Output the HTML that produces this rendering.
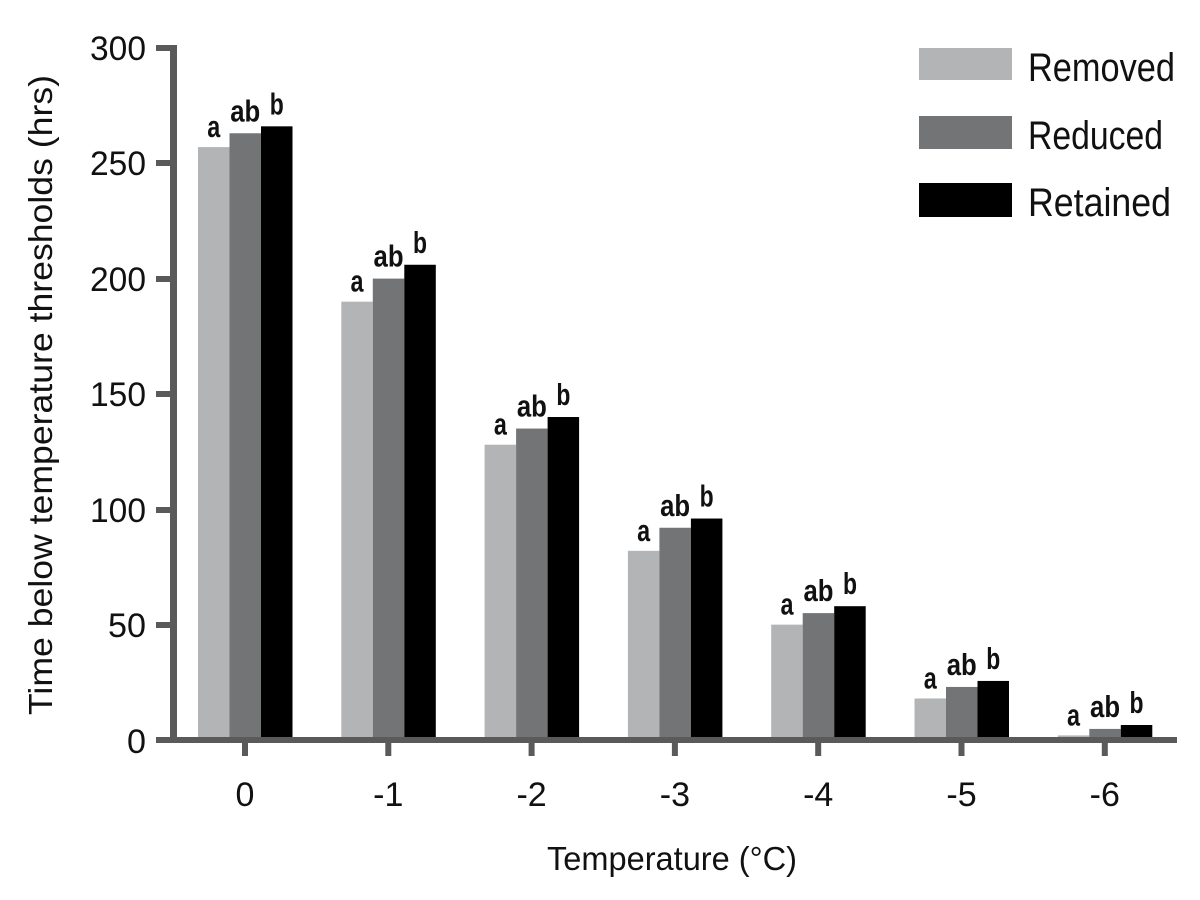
<!DOCTYPE html>
<html><head><meta charset="utf-8"><style>
html,body{margin:0;padding:0;background:#fff;}
svg{display:block;}
text{font-family:"Liberation Sans Narrow","Liberation Sans",sans-serif;fill:#111;}
</style></head><body>
<svg width="1200" height="900" viewBox="0 0 1200 900" xmlns="http://www.w3.org/2000/svg">
<g id="bars"></g>
<rect x="170" y="45" width="7" height="698" fill="#5a5a5a"/>
<rect x="170" y="737" width="1007" height="6" fill="#5a5a5a"/>
<g fill="#5a5a5a">
<rect x="156" y="45" width="16" height="6"/>
<rect x="156" y="160" width="16" height="6"/>
<rect x="156" y="276" width="16" height="6"/>
<rect x="156" y="391" width="16" height="6"/>
<rect x="156" y="507" width="16" height="6"/>
<rect x="156" y="622" width="16" height="6"/>
<rect x="156" y="737" width="16" height="6"/>
</g>
<g font-size="34" text-anchor="end">
<text x="146" y="60" textLength="56" lengthAdjust="spacingAndGlyphs">300</text>
<text x="146" y="175" textLength="56" lengthAdjust="spacingAndGlyphs">250</text>
<text x="146" y="291" textLength="56" lengthAdjust="spacingAndGlyphs">200</text>
<text x="146" y="406" textLength="56" lengthAdjust="spacingAndGlyphs">150</text>
<text x="146" y="522" textLength="56" lengthAdjust="spacingAndGlyphs">100</text>
<text x="146" y="637" textLength="38" lengthAdjust="spacingAndGlyphs">50</text>
<text x="146" y="753" textLength="19" lengthAdjust="spacingAndGlyphs">0</text>
</g>
<text transform="translate(52,395) rotate(-90)" font-size="33" text-anchor="middle" textLength="640" lengthAdjust="spacingAndGlyphs">Time below temperature thresholds (hrs)</text>
<text x="672" y="870" font-size="33" text-anchor="middle" textLength="250" lengthAdjust="spacingAndGlyphs">Temperature (°C)</text>
<rect x="919" y="48" width="93" height="32" fill="#b3b4b5"/>
<rect x="919" y="116" width="93" height="33" fill="#737475"/>
<rect x="919" y="183" width="93" height="34" fill="#000"/>
<g font-size="40">
<text x="1028" y="81" textLength="147" lengthAdjust="spacingAndGlyphs">Removed</text>
<text x="1028" y="149" textLength="135" lengthAdjust="spacingAndGlyphs">Reduced</text>
<text x="1028" y="216" textLength="143" lengthAdjust="spacingAndGlyphs">Retained</text>
</g>
<g id="xt"></g>
</svg>
<script>
var data=[[257,263,266],[190,200,206],[128,135,140],[82,92,96],[50,55,58],[18,23,25.6],[2,4.8,6.5]];
var labs=["0","-1","-2","-3","-4","-5","-6"];
var cols=["#b3b4b5","#737475","#000"];
var lt=["a","ab","b"], lw=[13,30,14];
var ns="http://www.w3.org/2000/svg";
var g=document.getElementById("bars"), xt=document.getElementById("xt");
function el(t,a,p){var e=document.createElementNS(ns,t);for(var k in a)e.setAttribute(k,a[k]);p.appendChild(e);return e;}
for(var i=0;i<7;i++){
 var c=245+i*143.3;
 for(var j=0;j<3;j++){
  var v=data[i][j], y=740-v*2.307, x=c-15.5+(j-1)*31.5;
  el("rect",{x:x,y:y,width:31.5,height:740-y,fill:cols[j]},g);
  var t=el("text",{x:x+15.75-lw[j]/2,y:y-(j==0?10:12),"font-size":"31","font-weight":"bold",textLength:lw[j],lengthAdjust:"spacingAndGlyphs"},g);
  t.textContent=lt[j];
 }
 el("rect",{x:c-3,y:740,width:6,height:16,fill:"#5a5a5a"},xt);
 var tl=el("text",{x:c,y:806,"font-size":"34","text-anchor":"middle"},xt);
 tl.textContent=labs[i];
}
</script>
</body></html>
